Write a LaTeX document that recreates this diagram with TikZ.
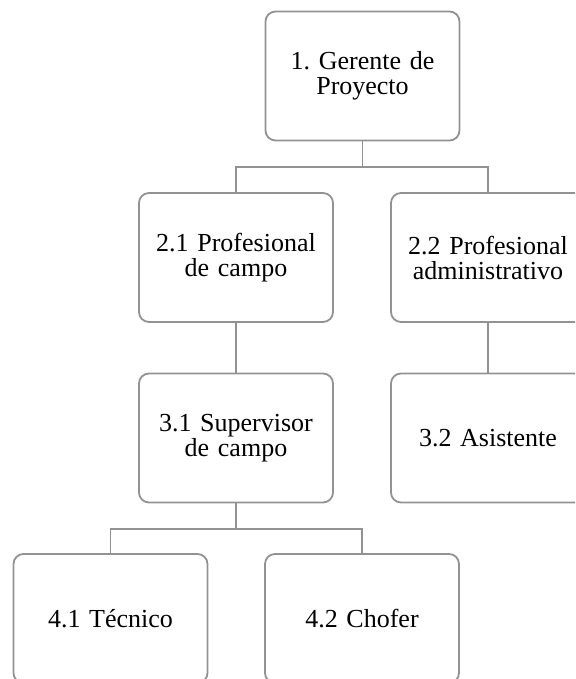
\documentclass[tikz,border=0pt]{standalone}
\usepackage{fontspec}
\setmainfont{Liberation Serif}
\definecolor{linegray}{RGB}{146,146,146}
\frenchspacing
\begin{document}
\begin{tikzpicture}[x=1pt,y=-1pt,
  box/.style={draw=linegray, line width=1.8pt, rounded corners=10pt,
    minimum width=194pt, minimum height=129pt, inner sep=0pt,
    align=center, text width=190pt, font=\fontsize{26}{25}\selectfont},
  conn/.style={draw=linegray, line width=1.8pt}]
\useasboundingbox (0,0) rectangle (575,679);
\clip (0,0) rectangle (575,679);
\node[box] (n1)  at (362.5,76)   {1. Gerente de\\Proyecto};
\node[box] (n21) at (236,257.5)  {2.1 Profesional\\de campo};
\node[box] (n22) at (488,257.5)  {2.2 Profesional\\administrativo};
\node[box] (n31) at (236,438)    {3.1 Supervisor\\de campo};
\node[box] (n32) at (488,438)    {3.2 Asistente};
\node[box] (n41) at (110.5,618.5) {4.1 Técnico};
\node[box] (n42) at (362,618.5)  {4.2 Chofer};
\draw[conn] (n1.south) -- ++(0,26) -| (n21.north);
\draw[conn] (n1.south) -- ++(0,26) -| (n22.north);
\draw[conn] (n21.south) -- (n31.north);
\draw[conn] (n22.south) -- (n32.north);
\draw[conn] (n31.south) -- ++(0,25.5) -| (n41.north);
\draw[conn] (n31.south) -- ++(0,25.5) -| (n42.north);
\end{tikzpicture}
\end{document}
